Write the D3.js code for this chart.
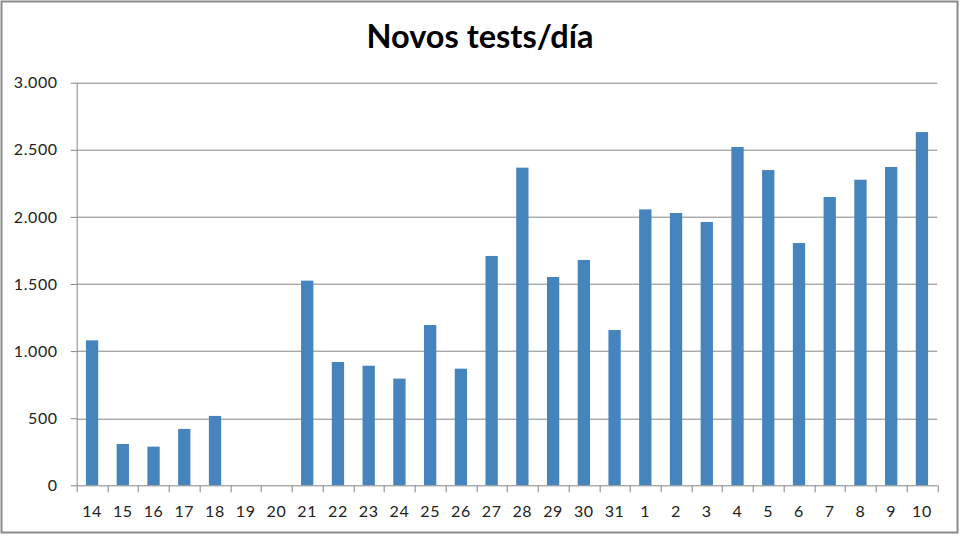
<!DOCTYPE html>
<html>
<head>
<meta charset="utf-8">
<script src="https://cdn.jsdelivr.net/npm/d3@7"></script>
<style>
  body { margin: 0; background: #fff; }
  svg { display: block; }
</style>
</head>
<body>
<svg id="chart" width="960" height="536"></svg>
<script>
// day of month (14 March - 10 April)
const days = ['14', '15', '16', '17', '18', '19', '20', '21', '22', '23', '24', '25', '26', '27',
    '28', '29', '30', '31', '1', '2', '3', '4', '5', '6', '7', '8', '9', '10'];
// new tests per day
const tests = [1080, 308, 288, 420, 517, 0, 0, 1525, 919, 891, 795, 1194, 869, 1709,
    2367, 1552, 1679, 1157, 2056, 2029, 1962, 2521, 2349, 1805, 2148, 2277, 2372, 2632];
const yTicks = [0, 500, 1000, 1500, 2000, 2500, 3000];
const title = 'Novos tests/día';

const svg = d3.select('#chart');
const margin = { top: 82.7, right: 22.7, bottom: 50.7, left: 76.7 };
const width = 960 - margin.left - margin.right;
const height = 536 - margin.top - margin.bottom;
const gridColour = '#868686';
const labelFont = 'Lato, "Open Sans", sans-serif';
const fmt = d => d3.format(',')(d).replace(/,/g, '.');

// outer frame
svg.append('rect')
    .attr('x', 1.5).attr('y', 1.5)
    .attr('width', 956).attr('height', 531)
    .attr('fill', '#fff')
    .attr('stroke', '#8a8a8a')
    .attr('stroke-width', 2);

svg.append('text')
    .attr('x', 480)
    .attr('y', 48)
    .attr('text-anchor', 'middle')
    .attr('font-family', labelFont)
    .attr('font-weight', 700)
    .attr('font-size', 32.5)
    .attr('fill', '#000')
    .text(title);

const g = svg.append('g').attr('transform', `translate(${margin.left},${margin.top})`);

const xScale = d3.scaleBand()
    .domain(days)
    .range([0, width])
    .paddingInner(0.6)
    .paddingOuter(0.3);

const yScale = d3.scaleLinear()
    .domain([0, 3000])
    .range([height, 0]);

// gridlines
g.append('g')
    .selectAll('line')
    .data(yTicks.filter(d => d > 0))
    .enter()
    .append('line')
    .attr('x1', 0)
    .attr('x2', width)
    .attr('y1', d => Math.round(yScale(d)) + 0.5)
    .attr('y2', d => Math.round(yScale(d)) + 0.5)
    .attr('stroke', gridColour)
    .attr('stroke-width', 1);

// bars
g.append('g')
    .selectAll('rect')
    .data(tests)
    .enter()
    .append('rect')
    .attr('x', (d, i) => xScale(days[i]))
    .attr('y', d => yScale(d))
    .attr('width', xScale.bandwidth())
    .attr('height', d => height - yScale(d))
    .attr('fill', '#4584bd');

// y axis
const yAxis = g.append('g')
    .call(d3.axisLeft(yScale).tickValues(yTicks).tickSize(6).tickPadding(13).tickFormat(fmt));
yAxis.select('.domain').attr('stroke', gridColour).attr('d', `M0.5,${height}V0`);
yAxis.selectAll('.tick line').attr('stroke', gridColour);
yAxis.selectAll('text')
    .attr('font-family', labelFont)
    .attr('font-size', 16)
    .attr('letter-spacing', 0.6)
    .attr('fill', '#222');

// x axis: ticks sit between categories like in a spreadsheet chart
const xAxis = g.append('g').attr('transform', `translate(0,${height})`);
xAxis.append('line')
    .attr('x1', 0).attr('x2', width)
    .attr('y1', 0.5).attr('y2', 0.5)
    .attr('stroke', gridColour);
xAxis.selectAll('.sep')
    .data(d3.range(days.length + 1))
    .enter()
    .append('line')
    .attr('class', 'sep')
    .attr('x1', i => Math.round(i * width / days.length) + 0.5)
    .attr('x2', i => Math.round(i * width / days.length) + 0.5)
    .attr('y1', 0)
    .attr('y2', 7)
    .attr('stroke', gridColour);
xAxis.selectAll('.lbl')
    .data(days)
    .enter()
    .append('text')
    .attr('class', 'lbl')
    .attr('x', d => xScale(d) + xScale.bandwidth() / 2)
    .attr('y', 32)
    .attr('text-anchor', 'middle')
    .attr('font-family', labelFont)
    .attr('font-size', 16)
    .attr('letter-spacing', 0.6)
    .attr('fill', '#222')
    .text(d => d);
</script>
</body>
</html>
